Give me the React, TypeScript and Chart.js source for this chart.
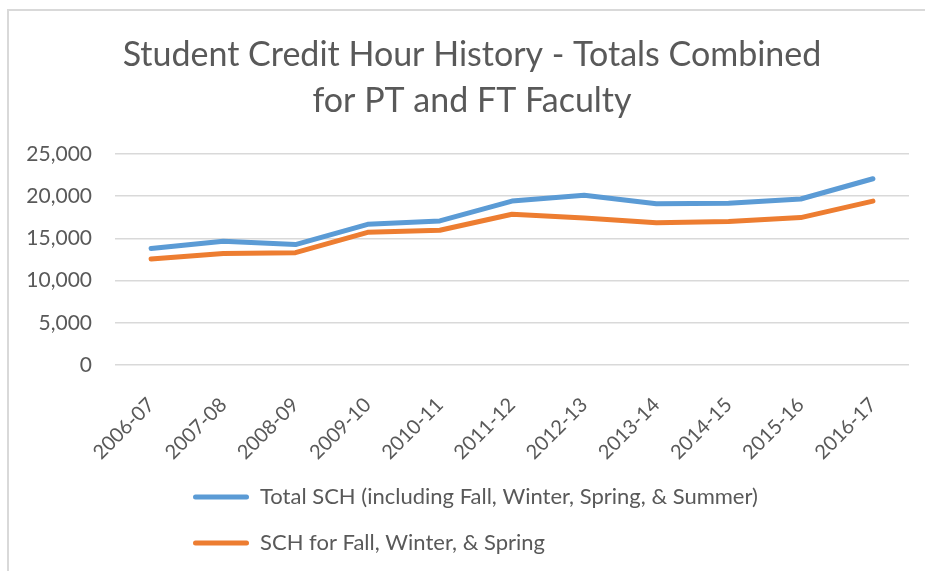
import React, { useEffect, useRef } from "react";
import { Chart, registerables } from "chart.js";

Chart.register(...registerables);

const categories = [
  "2006-07", "2007-08", "2008-09", "2009-10", "2010-11", "2011-12",
  "2012-13", "2013-14", "2014-15", "2015-16", "2016-17",
];
const totalSCH = [13800, 14650, 14250, 16650, 17050, 19400, 20100, 19100, 19150, 19650, 22050];
const fallWinterSpringSCH = [12550, 13200, 13300, 15700, 15950, 17850, 17400, 16850, 17000, 17450, 19400];
const seriesLabels = [
  "Total SCH (including Fall, Winter, Spring, & Summer)",
  "SCH for Fall, Winter, & Spring",
];
const titleLines = ["Student Credit Hour History - Totals Combined", "for PT and FT Faculty"];
const yMin = 0;
const yMax = 25000;
const yStep = 5000;

const FONT = "Lato, 'Open Sans', sans-serif";
const TEXT = "#595959";
const BLUE = "#5B9BD5";
const ORANGE = "#ED7D31";
const GRID = "#D9D9D9";

const blockPlace = {
  id: "blockPlace",
  afterLayout(chart: any) {
    const lg = chart.legend;
    if (lg) {
      const pad = lg.options.labels.padding;
      lg.left = 193 - pad;
      lg.right = 909;
    }
    const tb = chart.titleBlock;
    if (tb) {
      tb.left = 18;
      tb.right = 926;
    }
  },
};

export default function App() {
  const ref = useRef<HTMLCanvasElement | null>(null);

  useEffect(() => {
    if (!ref.current) return;
    const chart = new Chart(ref.current, {
      type: "line",
      data: {
        labels: categories,
        datasets: [
          {
            label: seriesLabels[0],
            data: totalSCH,
            borderColor: BLUE,
            backgroundColor: BLUE,
            borderWidth: 5,
            pointRadius: 0,
            tension: 0,
            borderCapStyle: "round",
            borderJoinStyle: "round",
          },
          {
            label: seriesLabels[1],
            data: fallWinterSpringSCH,
            borderColor: ORANGE,
            backgroundColor: ORANGE,
            borderWidth: 5,
            pointRadius: 0,
            tension: 0,
            borderCapStyle: "round",
            borderJoinStyle: "round",
          },
        ],
      },
      options: {
        animation: false,
        responsive: false,
        maintainAspectRatio: false,
        layout: { padding: { left: 0, right: 16, top: 0, bottom: 7 } },
        plugins: {
          title: {
            display: true,
            text: titleLines,
            color: TEXT,
            font: { family: FONT, size: 34, weight: "normal", lineHeight: 1.35 },
            padding: { top: 32, bottom: 30 },
          },
          legend: {
            display: true,
            position: "bottom",
            align: "start",
            labels: {
              color: TEXT,
              font: { family: FONT, size: 22 },
              boxWidth: 56,
              boxHeight: 5,
              padding: 24,
              useBorderRadius: true,
              borderRadius: 2.5,
              generateLabels: (c: any) =>
                c.data.datasets.map((ds: any, i: number) => ({
                  text: ds.label,
                  fillStyle: ds.borderColor,
                  strokeStyle: ds.borderColor,
                  lineWidth: 0,
                  fontColor: TEXT,
                  borderRadius: 2.5,
                  datasetIndex: i,
                  hidden: false,
                })),
            },
          },
          tooltip: { enabled: false },
        },
        scales: {
          x: {
            offset: true,
            grid: { display: false, drawTicks: false },
            border: { display: false },
            ticks: {
              color: TEXT,
              font: { family: FONT, size: 20 },
              maxRotation: 45,
              minRotation: 45,
              padding: 28,
              autoSkip: false,
            },
            afterFit: (s: any) => {
              s.height = 97;
            },
          },
          y: {
            min: yMin,
            max: yMax,
            grid: { color: GRID, lineWidth: 1.5, drawTicks: false },
            border: { display: false },
            ticks: {
              stepSize: yStep,
              color: TEXT,
              font: { family: FONT, size: 21 },
              padding: 23,
              callback: (v: any) => Number(v).toLocaleString("en-US"),
            },
            afterFit: (s: any) => {
              s.width = 115;
            },
          },
        },
      },
      plugins: [blockPlace],
    });
    return () => chart.destroy();
  }, []);

  return (
    <div style={{ position: "fixed", left: 0, top: 0, width: 925, height: 571, background: "#fff" }}>
      <div
        style={{
          position: "absolute",
          left: 7,
          top: 9,
          width: 930,
          height: 580,
          borderLeft: "2px solid #D9D9D9",
          borderTop: "2px solid #D9D9D9",
        }}
      />
      <canvas ref={ref} width={925} height={571} style={{ position: "absolute", left: 0, top: 0 }} />
    </div>
  );
}
